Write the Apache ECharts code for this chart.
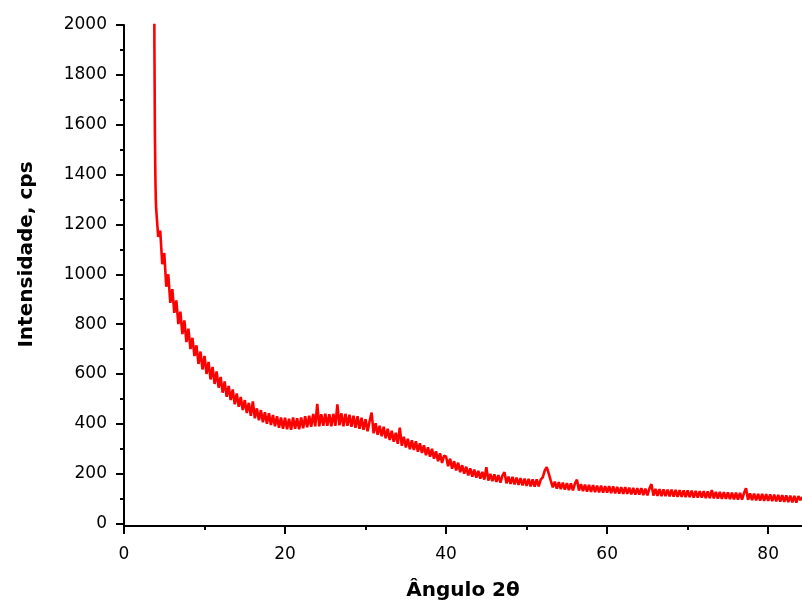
<!DOCTYPE html>
<html>
<head>
<meta charset="utf-8">
<script src="https://cdn.jsdelivr.net/npm/echarts@6/dist/echarts.min.js"></script>
<style>html,body{margin:0;padding:0;background:#fff}#c{width:802px;height:606px}</style>
</head>
<body>
<div id="c"></div>
<script>
// steep start of the pattern (2θ, intensity)
const headAngles = [3.72, 3.78, 3.84, 3.90, 3.95];
const headIntensity = [2500, 1900, 1560, 1380, 1300];
// main scan: starts at 4.0°, one reading every 0.25°
const scanStart = 4.0;
const scanStep = 0.25;
const intensity = [
  1260,1150,1175,1040,1085,950,1000,885,
  940,845,895,800,850,760,815,728,
  782,700,745,672,715,640,690,618,
  672,600,648,578,628,560,610,545,
  588,525,570,508,552,495,538,478,
  522,468,508,455,495,443,484,432,
  490,422,462,414,455,406,446,400,
  442,395,435,390,430,384,425,380,
  424,378,420,376,425,380,422,378,
  425,382,430,386,432,388,440,390,
  480,390,438,392,440,392,438,390,
  440,392,478,394,442,390,440,392,
  436,388,432,384,430,380,424,376,
  418,370,410,445,362,402,356,392,
  350,388,342,380,335,372,328,364,
  320,385,312,348,305,340,298,334,
  295,330,288,322,283,314,274,306,
  268,300,260,290,250,282,243,272,
  268,230,260,220,250,213,244,206,
  234,200,228,193,221,188,216,184,
  211,180,207,176,226,172,199,170,
  197,167,194,164,192,206,161,188,
  159,187,157,184,155,182,153,180,
  151,179,149,177,148,177,149,176,
  185,212,226,200,172,145,168,140,
  166,138,164,136,162,134,161,133,
  160,176,132,158,130,156,128,155,
  127,154,126,152,125,152,124,150,
  124,150,122,149,121,147,120,146,
  119,146,119,144,117,143,116,142,
  116,142,114,140,113,140,158,112,
  139,111,138,110,137,110,136,109,
  136,108,135,107,134,107,133,106,
  133,106,132,104,131,104,130,104,
  130,102,129,102,134,101,127,100,
  127,99,126,99,125,98,124,97,
  124,96,123,96,122,142,95,121,
  94,120,93,119,92,119,91,118,
  91,117,90,116,89,115,88,114,
  87,113,86,112,85,111,84,110,
  94,106
];
const xTicks = [0, 20, 40, 60, 80];
const xMinorTicks = [10, 30, 50, 70];
const yTicks = [0, 200, 400, 600, 800, 1000, 1200, 1400, 1600, 1800, 2000];
const yMinorTicks = [100, 300, 500, 700, 900, 1100, 1300, 1500, 1700, 1900];

const data = [];
headAngles.forEach((a, i) => data.push([a, headIntensity[i]]));
intensity.forEach((v, i) => data.push([+(scanStart + i * scanStep).toFixed(2), v]));

const FONT = 'DejaVu Sans';
const axisLineStyle = { color: '#000', width: 2 };
const plain = v => String(v);

const chart = echarts.init(document.getElementById('c'), null, { renderer: 'canvas' });
chart.setOption({
  animation: false,
  backgroundColor: '#fff',
  grid: { left: 124, right: 0, top: 25, bottom: 78, containLabel: false },
  xAxis: [
    {
      type: 'value', min: 0, max: 84.2, position: 'bottom',
      name: 'Ângulo 2θ', nameLocation: 'middle', nameGap: 55,
      nameTextStyle: { fontFamily: FONT, fontWeight: 'bold', fontSize: 20, color: '#000' },
      axisLine: { show: true, onZero: false, lineStyle: axisLineStyle },
      axisTick: { show: true, length: 8, customValues: xTicks, lineStyle: axisLineStyle },
      axisLabel: { show: true, customValues: xTicks, formatter: plain, margin: 20, fontFamily: FONT, fontSize: 17, color: '#000' },
      splitLine: { show: false }
    },
    {
      type: 'value', min: 0, max: 84.2, position: 'bottom',
      axisLine: { show: false, onZero: false },
      axisTick: { show: true, length: 4, customValues: xMinorTicks, lineStyle: axisLineStyle },
      axisLabel: { show: false },
      splitLine: { show: false }
    }
  ],
  yAxis: [
    {
      type: 'value', min: -10, max: 2000, position: 'left',
      name: 'Intensidade, cps', nameLocation: 'middle', nameGap: 87,
      nameTextStyle: { fontFamily: FONT, fontWeight: 'bold', fontSize: 20, color: '#000', padding: [0, 0, 0, 42] },
      axisLine: { show: true, onZero: false, lineStyle: axisLineStyle },
      axisTick: { show: true, length: 8, customValues: yTicks, lineStyle: axisLineStyle },
      axisLabel: { show: true, customValues: yTicks, formatter: plain, margin: 17, fontFamily: FONT, fontSize: 17, color: '#000' },
      splitLine: { show: false }
    },
    {
      type: 'value', min: -10, max: 2000, position: 'left',
      axisLine: { show: false, onZero: false },
      axisTick: { show: true, length: 4, customValues: yMinorTicks, lineStyle: axisLineStyle },
      axisLabel: { show: false },
      splitLine: { show: false }
    }
  ],
  series: [{
    type: 'line',
    xAxisIndex: 0, yAxisIndex: 0,
    data: data,
    showSymbol: false,
    symbol: 'none',
    clip: true,
    lineStyle: { color: '#ff0000', width: 2.6, join: 'bevel' }
  }]
});
</script>
</body>
</html>
